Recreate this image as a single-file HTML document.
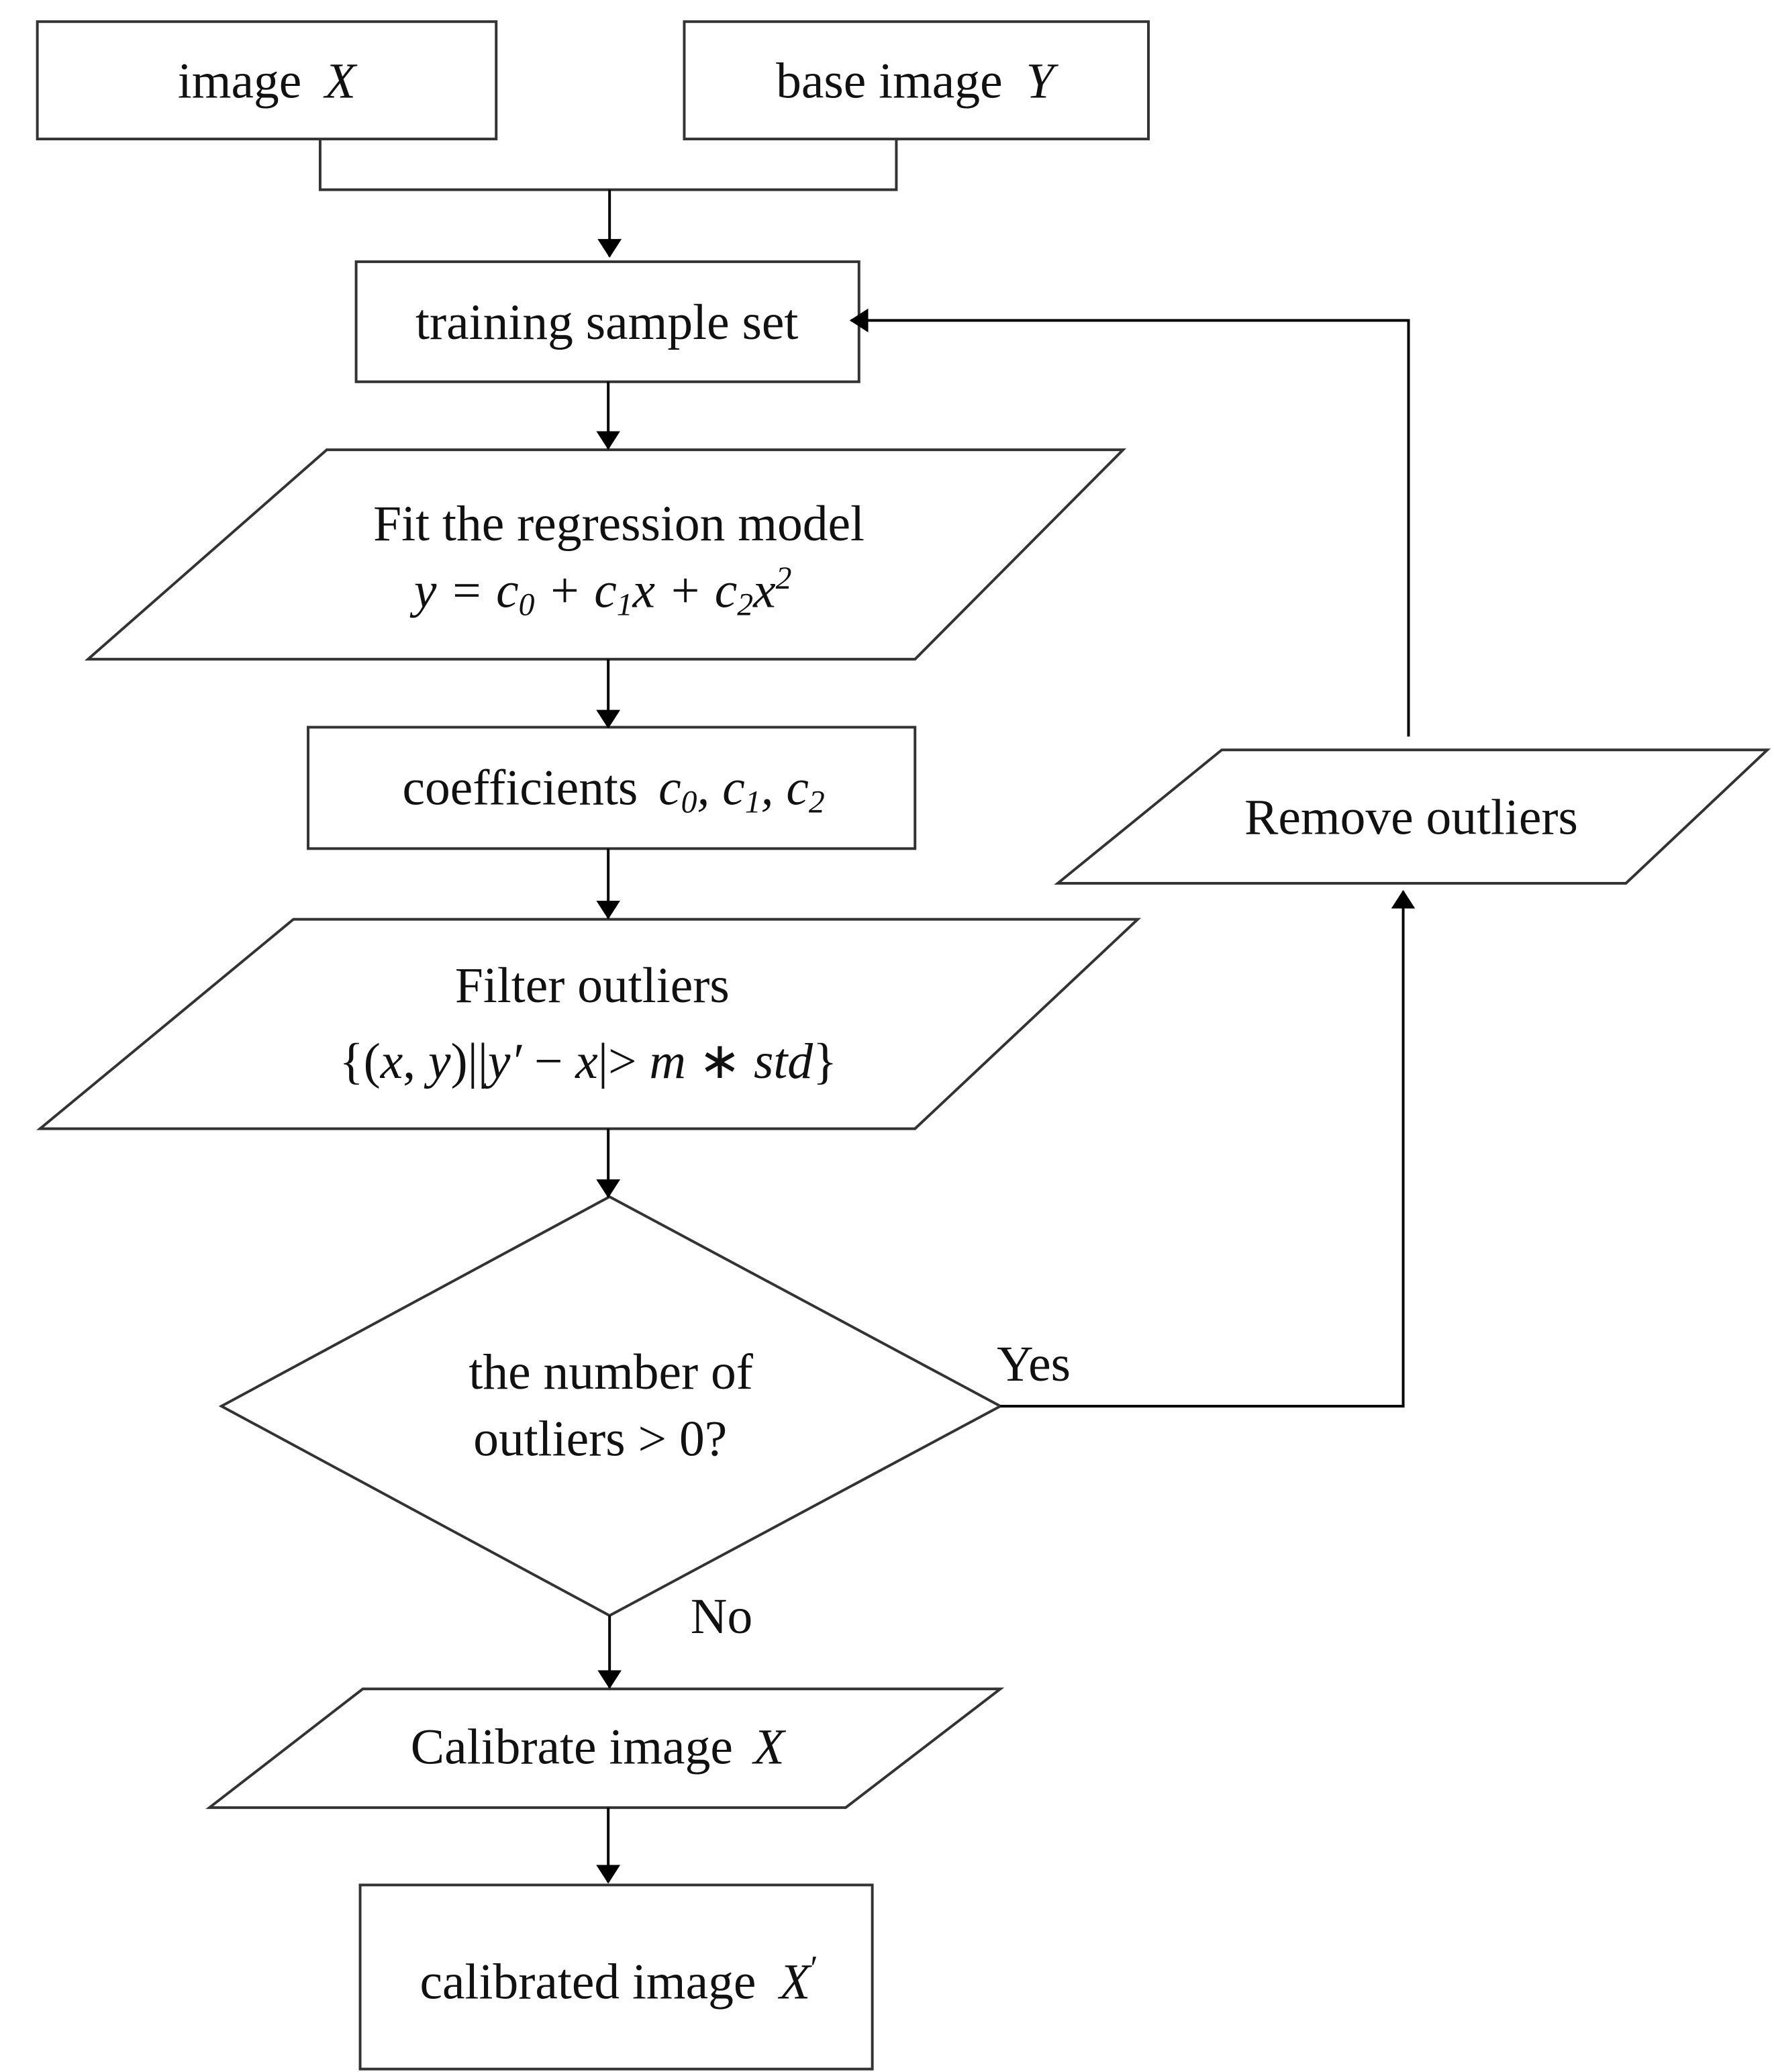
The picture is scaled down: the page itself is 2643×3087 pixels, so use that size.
<!DOCTYPE html>
<html><head><meta charset="utf-8"><style>
html,body{margin:0;padding:0;background:#fff;}
svg{display:block;}
text{font-family:"Liberation Serif",serif;fill:#111;}
.i{font-style:italic;}
</style></head><body>
<svg width="2643" height="3087" viewBox="0 0 1330 1553" xmlns="http://www.w3.org/2000/svg">
<defs>
<marker id="b" markerWidth="14" markerHeight="18" refX="13" refY="9" orient="auto" markerUnits="userSpaceOnUse" viewBox="0 0 14 18"><path d="M0,0 L14,9 L0,18 z" fill="#000"/></marker></defs>
<g fill="none" stroke="#333" stroke-width="2">
<rect x="28" y="16" width="344" height="88"/>
<rect x="513" y="16" width="348" height="88"/>
<polyline points="240,104 240,142 672,142 672,104"/>
<rect x="267" y="196" width="377" height="90"/>
<polygon points="245,337 842,337 686,494 66,494"/>
<rect x="231" y="545" width="455" height="91"/>
<polygon points="220,689 853,689 686,846 30,846"/>
<polygon points="457,897 750,1054 457,1211 166,1054"/>
<polygon points="916,562 1325,562 1219,662 793,662"/>
<polygon points="272,1266 750,1266 634,1355 157,1355"/>
<rect x="270" y="1413" width="384" height="138"/>
</g>
<g stroke="#000" stroke-width="2" fill="none">
<line x1="457" y1="142" x2="457" y2="192" marker-end="url(#b)"/>
<line x1="456" y1="286" x2="456" y2="336" marker-end="url(#b)"/>
<line x1="456" y1="494" x2="456" y2="545" marker-end="url(#b)"/>
<line x1="456" y1="636" x2="456" y2="688" marker-end="url(#b)"/>
<line x1="456" y1="846" x2="456" y2="897" marker-end="url(#b)"/>
<polyline points="750,1054 1052,1054 1052,668" marker-end="url(#b)"/>
<polyline points="1056,552 1056,240 638,240" marker-end="url(#b)"/>
<line x1="457" y1="1211" x2="457" y2="1265" marker-end="url(#b)"/>
<line x1="456" y1="1355" x2="456" y2="1411" marker-end="url(#b)"/>
</g>
<g font-size="38" text-anchor="middle">
<text x="200" y="73">image <tspan class="i" dx="8">X</tspan></text>
<text x="686" y="73">base image <tspan class="i" dx="8">Y</tspan></text>
<text x="455" y="254">training sample set</text>
<text x="464" y="405">Fit the regression model</text>
<text x="452" y="455" class="i">y = c<tspan font-size="24" dy="6">0</tspan><tspan dy="-6"> + c</tspan><tspan font-size="24" dy="6">1</tspan><tspan dy="-6">x + c</tspan><tspan font-size="24" dy="6">2</tspan><tspan dy="-6">x</tspan><tspan font-size="24" dy="-14">2</tspan></text>
<text x="460" y="603">coefficients <tspan class="i" dx="6">c</tspan><tspan class="i" font-size="24" dy="6">0</tspan><tspan class="i" dy="-6">, c</tspan><tspan class="i" font-size="24" dy="6">1</tspan><tspan class="i" dy="-6">, c</tspan><tspan class="i" font-size="24" dy="6">2</tspan></text>
<text x="444" y="751">Filter outliers</text>
<text x="441" y="808">{(<tspan class="i">x</tspan>, <tspan class="i">y</tspan>)||<tspan class="i">y′</tspan> − <tspan class="i">x</tspan>|&gt; <tspan class="i">m</tspan> ∗ <tspan class="i">std</tspan>}</text>
<text x="458" y="1041">the number of</text>
<text x="450" y="1091">outliers &gt; 0?</text>
<text x="775" y="1035">Yes</text>
<text x="541" y="1224">No</text>
<text x="1058" y="625">Remove outliers</text>
<text x="448" y="1322">Calibrate image <tspan class="i" dx="6">X</tspan></text>
<text x="464" y="1498">calibrated image <tspan class="i" dx="8">X</tspan><tspan font-size="26" dy="-14">′</tspan></text>
</g>
</svg>
</body></html>
